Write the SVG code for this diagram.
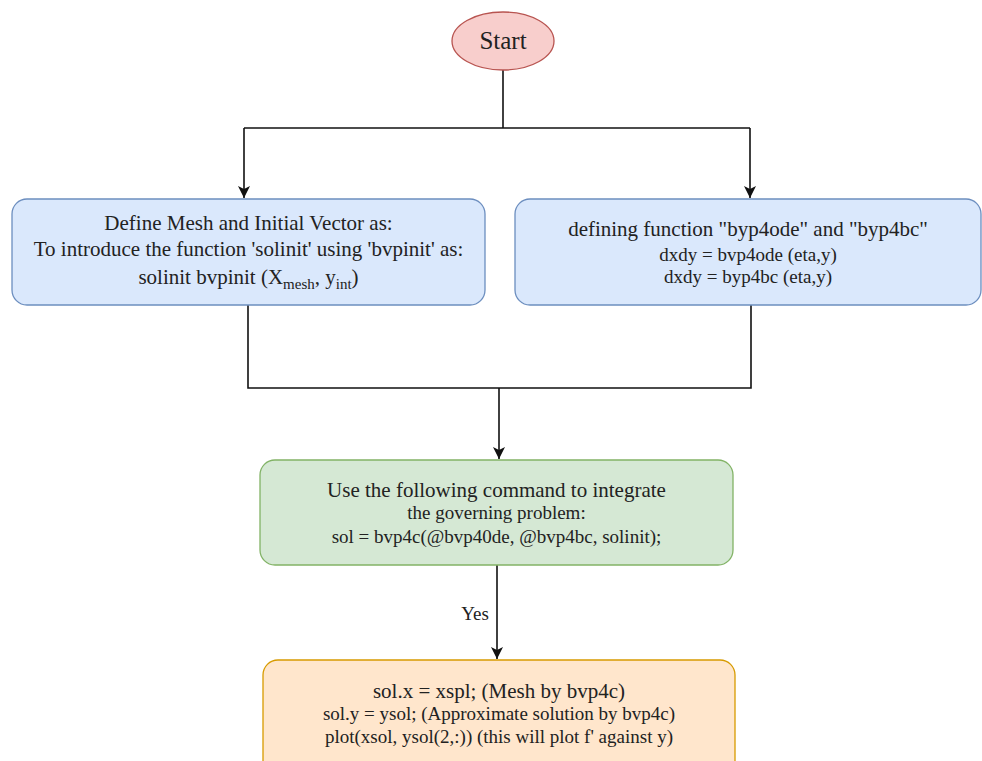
<svg xmlns="http://www.w3.org/2000/svg" width="982" height="761" viewBox="0 0 982 761">
<style>
  text { font-family: "Liberation Serif", "Times New Roman", serif; fill: #222; text-anchor: middle; }
  .big { font-size: 21px; }
  .small { font-size: 19px; }
  .blue { fill: #dae8fc; stroke: #6c8ebf; stroke-width: 1.3; }
  .green { fill: #d5e8d4; stroke: #82b366; stroke-width: 1.3; }
  .orange { fill: #ffe6cc; stroke: #d79b00; stroke-width: 1.3; }
  .conn { fill: none; stroke: #111; stroke-width: 1.6; }
</style>
<defs>
  <marker id="arrow" markerWidth="12" markerHeight="12" refX="10" refY="5" orient="auto" markerUnits="userSpaceOnUse" viewBox="0 0 10 10">
    <path d="M0,0 L10,5 L0,10 L2.5,5 Z" fill="#111"/>
  </marker>
</defs>
<rect width="982" height="761" fill="#ffffff"/>
<g id="connectors">
  <path class="conn" d="M503,70 V128" stroke-width="2"/>
  <path class="conn" d="M244,128 H750"/>
  <path class="conn" d="M244,128 V198" marker-end="url(#arrow)"/>
  <path class="conn" d="M750,128 V198" marker-end="url(#arrow)"/>
  <path class="conn" d="M248,305 V388 H751 V305"/>
  <path class="conn" d="M499,388 V459" marker-end="url(#arrow)"/>
  <path class="conn" d="M497,565 V659" marker-end="url(#arrow)"/>
  <text class="small" x="475" y="620">Yes</text>
</g>
<g id="start">
  <ellipse cx="503" cy="41" rx="51" ry="29" fill="#f8cecc" stroke="#b85450" stroke-width="1.3"/>
  <text x="503" y="49" style="font-size:25px">Start</text>
</g>
<g id="mesh">
  <rect class="blue" x="12" y="199" width="473" height="106" rx="15" ry="15"/>
  <text class="big" x="248.5" y="230">Define Mesh and Initial Vector as:</text>
  <text class="big" x="248.5" y="256">To introduce the function 'solinit' using 'bvpinit' as:</text>
  <text class="big" x="248.5" y="284">solinit bvpinit (X<tspan dy="5" style="font-size:15px">mesh</tspan><tspan dy="-5">, y</tspan><tspan dy="5" style="font-size:15px">int</tspan><tspan dy="-5">)</tspan></text>
</g>
<g id="functions">
  <rect class="blue" x="515" y="199" width="466" height="106" rx="15" ry="15"/>
  <text class="big" x="748" y="236">defining function "byp4ode" and "byp4bc"</text>
  <text class="small" x="748" y="261">dxdy = bvp4ode (eta,y)</text>
  <text class="small" x="748" y="283">dxdy = byp4bc (eta,y)</text>
</g>
<g id="integrate">
  <rect class="green" x="260" y="460" width="473" height="105" rx="15" ry="15"/>
  <text class="big" x="496.5" y="497">Use the following command to integrate</text>
  <text class="small" x="496.5" y="519">the governing problem:</text>
  <text class="small" x="496.5" y="543">sol = bvp4c(@bvp40de, @bvp4bc, solinit);</text>
</g>
<g id="solution">
  <rect class="orange" x="263" y="660" width="472" height="120" rx="15" ry="15"/>
  <text class="big" x="499" y="698">sol.x = xspl; (Mesh by bvp4c)</text>
  <text class="small" x="499" y="720">sol.y = ysol; (Approximate solution by bvp4c)</text>
  <text class="small" x="499" y="743">plot(xsol, ysol(2,:)) (this will plot f' against y)</text>
</g>
</svg>
